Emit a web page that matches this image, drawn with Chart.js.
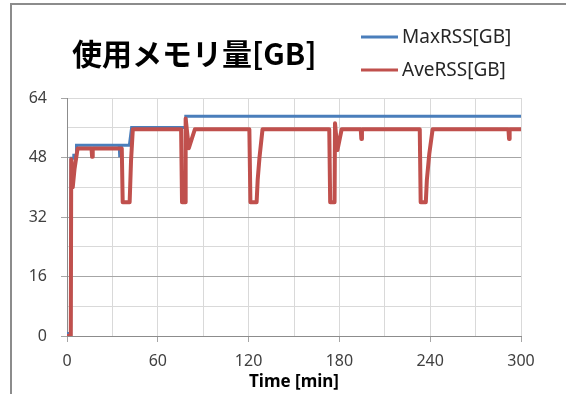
<!DOCTYPE html>
<html>
<head>
<meta charset="utf-8">
<script src="https://cdn.jsdelivr.net/npm/chart.js@4.4.1/dist/chart.umd.min.js"></script>
<style>
  html, body { margin: 0; padding: 0; background: #fff; }
  #wrap { width: 566px; height: 394px; position: relative; }
</style>
</head>
<body>
<div id="wrap"><canvas id="memChart"></canvas></div>
<script>
const chartTitle = '使用メモリ量[GB]';
const xTitle = 'Time [min]';
const xTicks = [0, 60, 120, 180, 240, 300];
const yTicks = [0, 16, 32, 48, 64];

// MaxRSS (blue)
const maxLabel = 'MaxRSS[GB]';
const maxTime = [0, 2.4, 2.7, 4.3, 4.5, 6.0, 6.3, 34.5, 34.8, 35.6, 35.9, 41.2, 42.7, 78.2, 78.5, 300];
const maxRss  = [0.7, 0.7, 47.8, 47.8, 48.6, 48.6, 51.3, 51.3, 48.5, 48.5, 51.3, 51.3, 56.1, 56.1, 59.1, 59.1];

// AveRSS (red)
const aveLabel = 'AveRSS[GB]';
const aveTime = [0, 2.5, 2.8, 3.8, 5.0, 7.0, 16.2, 16.6, 17.0, 36.2, 36.8, 41.4, 42.3, 43.5,
                 75.4, 76.0, 78.0, 78.4, 80.5, 84.5, 120.5, 121.2, 125.3, 126.0, 127.2, 129.2,
                 173.3, 173.9, 176.8, 177.1, 178.7, 181.5, 194.1, 194.5, 194.9,
                 233.1, 233.7, 237.1, 237.8, 239.4, 241.6, 291.7, 292.1, 292.5, 300];
const aveRss  = [0, 0, 47.5, 40, 45, 50.4, 50.4, 48.2, 50.4, 50.4, 36, 36, 47, 55.6,
                 55.6, 36, 36, 58.5, 50.5, 55.6, 55.6, 36, 36, 42, 48, 55.6,
                 55.6, 36, 36, 57.2, 50, 55.6, 55.6, 53, 55.6,
                 55.6, 36, 36, 42, 49, 55.6, 55.6, 53, 55.6, 55.6];

const blue = '#4a7ebb';
const red = '#c0504d';

function points(xs, ys) {
  return xs.map((x, i) => ({ x: x, y: ys[i] }));
}

// title, legend and the outer frame
const headerPlugin = {
  id: 'header',
  beforeDraw(chart) {
    const ctx = chart.ctx;
    ctx.save();
    ctx.strokeStyle = '#8c8c8c';
    ctx.lineWidth = 2;
    ctx.beginPath();
    ctx.moveTo(11, 394);
    ctx.lineTo(11, 4);
    ctx.lineTo(566, 4);
    ctx.stroke();
    ctx.restore();
  },
  afterDraw(chart) {
    const ctx = chart.ctx;
    ctx.save();
    ctx.textBaseline = 'middle';
    ctx.fillStyle = '#000';
    ctx.font = 'bold 30px "Noto Sans CJK JP"';
    ctx.fillText(chartTitle, 72, 54);

    ctx.font = '19px "Noto Sans"';
    const rows = [38, 71];
    chart.data.datasets.forEach((ds, i) => {
      const y = rows[i];
      ctx.strokeStyle = ds.borderColor;
      ctx.lineWidth = 3;
      ctx.beginPath();
      ctx.moveTo(361, y - 1);
      ctx.lineTo(398, y - 1);
      ctx.stroke();
      ctx.fillStyle = '#262626';
      ctx.fillText(ds.label, 402, y);
    });
    ctx.restore();
  }
};

new Chart(document.getElementById('memChart'), {
  type: 'line',
  data: {
    datasets: [
      {
        label: maxLabel,
        data: points(maxTime, maxRss),
        borderColor: blue,
        borderWidth: 3,
        pointRadius: 0,
        tension: 0,
        order: 2
      },
      {
        label: aveLabel,
        data: points(aveTime, aveRss),
        borderColor: red,
        borderWidth: 4,
        borderJoinStyle: 'round',
        borderCapStyle: 'round',
        pointRadius: 0,
        tension: 0,
        order: 1
      }
    ]
  },
  options: {
    responsive: true,
    maintainAspectRatio: false,
    animation: false,
    events: [],
    layout: { padding: { top: 98, right: 45, bottom: 0, left: 0 } },
    plugins: {
      legend: { display: false },
      title: { display: false },
      tooltip: { enabled: false }
    },
    scales: {
      x: {
        type: 'linear',
        min: 0,
        max: 300,
        afterFit(scale) { scale.height = 58; },
        ticks: {
          stepSize: 30,
          autoSkip: false,
          maxRotation: 0,
          padding: 10,
          color: '#404040',
          font: { family: 'Noto Sans', size: 16 },
          callback: v => xTicks.includes(v) ? String(v) : ''
        },
        grid: {
          color: '#d9d9d9',
          tickLength: 6,
          tickColor: c => xTicks.includes(c.tick.value) ? '#a6a6a6' : 'rgba(0,0,0,0)'
        },
        border: { color: '#8c8c8c' },
        title: {
          display: true,
          text: xTitle,
          color: '#000',
          padding: { top: 4, bottom: 2 },
          font: { family: 'Noto Sans', size: 17, weight: 'bold' }
        }
      },
      y: {
        min: 0,
        max: 64,
        afterFit(scale) { scale.width = 67; },
        ticks: {
          stepSize: 8,
          autoSkip: false,
          padding: 14,
          color: '#404040',
          font: { family: 'Noto Sans', size: 16 },
          callback: v => yTicks.includes(v) ? String(v) : ''
        },
        grid: {
          color: c => (c.tick.value % 16 === 0 && c.tick.value !== 64) ? '#a6a6a6' : '#d9d9d9',
          tickLength: 6,
          tickColor: c => yTicks.includes(c.tick.value) ? '#a6a6a6' : 'rgba(0,0,0,0)'
        },
        border: { color: '#8c8c8c' }
      }
    }
  },
  plugins: [headerPlugin]
});
</script>
</body>
</html>
